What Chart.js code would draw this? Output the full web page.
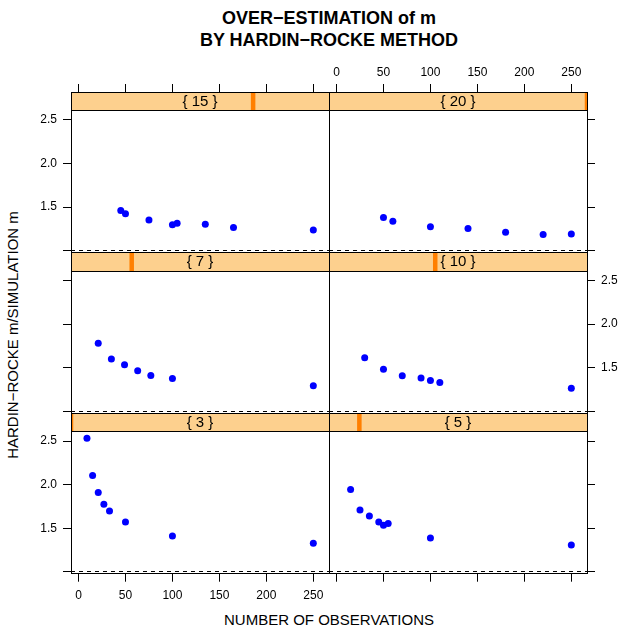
<!DOCTYPE html>
<html>
<head>
<meta charset="utf-8">
<title>Over-estimation of m</title>
<script src="https://cdn.jsdelivr.net/npm/chart.js@4.4.1/dist/chart.umd.min.js"></script>
<style>
  body { margin: 0; background: #fff; }
  #wrap { position: relative; width: 620px; height: 630px; font-family: "Liberation Sans", Arial, sans-serif; color: #000; }
  #wrap canvas { position: absolute; left: 0; top: 0; }
  .main { position: absolute; left: 79px; width: 500px; top: 7px; text-align: center; font-weight: bold; font-size: 18px; line-height: 22px; }
  .xlab { position: absolute; left: 129px; width: 400px; top: 611px; text-align: center; font-size: 15px; line-height: 18px; }
  .ylab { position: absolute; left: 13px; top: 335px; width: 0; height: 0; }
  .ylab span { position: absolute; left: 0; top: 0; white-space: nowrap; font-size: 15px; line-height: 18px; transform: translate(-50%, -50%) rotate(-90deg); }
</style>
</head>
<body>
<div id="wrap">
  <div class="main">OVER&#8722;ESTIMATION of m<br>BY HARDIN&#8722;ROCKE METHOD</div>
  <div class="ylab"><span>HARDIN&#8722;ROCKE m/SIMULATION m</span></div>
  <div class="xlab">NUMBER OF OBSERVATIONS</div>
</div>
<script>
// number of classes (strip levels)
var levels = [3, 5, 7, 10, 15, 20];
var stripLabels = ['{ 3 }', '{ 5 }', '{ 7 }', '{ 10 }', '{ 15 }', '{ 20 }'];

// number of observations / ratio Hardin-Rocke m to simulated m, one pair per level
var n3 = [9, 15, 21, 27, 33, 50, 100, 250];
var ratio3 = [2.532, 2.105, 1.910, 1.776, 1.700, 1.574, 1.413, 1.330];
var n5 = [15, 25, 35, 45, 50, 55, 100, 250];
var ratio5 = [1.945, 1.711, 1.642, 1.574, 1.536, 1.555, 1.390, 1.310];
var n7 = [21, 35, 49, 63, 77, 100, 250];
var ratio7 = [1.781, 1.600, 1.535, 1.466, 1.412, 1.378, 1.293];
var n10 = [30, 50, 70, 90, 100, 110, 250];
var ratio10 = [1.615, 1.482, 1.408, 1.381, 1.355, 1.332, 1.266];
var n15 = [45, 50, 75, 100, 105, 135, 165, 250];
var ratio15 = [1.461, 1.423, 1.354, 1.297, 1.316, 1.305, 1.266, 1.239];
var n20 = [50, 60, 100, 140, 180, 220, 250];
var ratio20 = [1.381, 1.339, 1.274, 1.254, 1.213, 1.185, 1.193];

var xTicks = [0, 50, 100, 150, 200, 250];
var yTicks = [1.0, 1.5, 2.0, 2.5];
var xRange = [-8, 266.7];
var yRange = [0.98, 2.82];   // top part is covered by the strip

// panel grid (lattice layout 2 x 3, bottom row first)
var colLeft = [71, 329], colWidth = 258;
var rowTop = [92, 252.6, 413.2], rowHeight = 160.5;
var stripH = 18.5;
var axisW = 33, axisH = 30;   // room kept for outer tick labels
var tickFont = { family: '"Liberation Sans", Arial, sans-serif', size: 12 };

var panels = [
  { n: n3, r: ratio3, lev: 0, col: 0, row: 2 },
  { n: n5, r: ratio5, lev: 1, col: 1, row: 2 },
  { n: n7, r: ratio7, lev: 2, col: 0, row: 1 },
  { n: n10, r: ratio10, lev: 3, col: 1, row: 1 },
  { n: n15, r: ratio15, lev: 4, col: 0, row: 0 },
  { n: n20, r: ratio20, lev: 5, col: 1, row: 0 }
];

var panelPlugin = {
  id: 'panel',
  beforeDatasetsDraw: function (chart) {
    var a = chart.chartArea, ctx = chart.ctx;
    var y = Math.floor(chart.scales.y.getPixelForValue(1)) + 0.5;
    ctx.save();
    ctx.strokeStyle = '#000';
    ctx.lineWidth = 1;
    ctx.setLineDash([4, 4]);
    ctx.beginPath();
    ctx.moveTo(a.left, y);
    ctx.lineTo(a.right, y);
    ctx.stroke();
    ctx.restore();
  },
  afterDraw: function (chart, args, opts) {
    var a = chart.chartArea, ctx = chart.ctx;
    var l = Math.floor(a.left) + 0.5, r = Math.floor(a.right) + 0.5;
    var t = Math.floor(a.top) + 0.5, b = Math.floor(a.bottom) + 0.5;
    var sb = Math.floor(a.top + stripH) + 0.5;
    ctx.save();
    // strip
    ctx.fillStyle = '#fdd08e';
    ctx.fillRect(a.left, a.top, a.width, stripH);
    var lo = levels[0], hi = levels[levels.length - 1];
    var bx = a.left + (opts.level - lo) / (hi - lo) * a.width;
    ctx.save();
    ctx.beginPath();
    ctx.rect(a.left, a.top, a.width, stripH);
    ctx.clip();
    ctx.fillStyle = '#ff7f00';
    ctx.fillRect(bx - 2.25, a.top, 4.5, stripH);
    ctx.restore();
    ctx.fillStyle = '#000';
    ctx.font = '15px "Liberation Sans", Arial, sans-serif';
    ctx.textAlign = 'center';
    ctx.textBaseline = 'middle';
    ctx.fillText(opts.label, a.left + a.width / 2, a.top + stripH / 2 + 0.5);
    // borders
    ctx.strokeStyle = '#000';
    ctx.lineWidth = 1;
    ctx.beginPath();
    ctx.moveTo(l, sb);
    ctx.lineTo(r, sb);
    ctx.stroke();
    ctx.strokeRect(l, t, r - l, b - t);
    ctx.restore();
  }
};

function axis(pos, show, labels, ticksArr, range, fmt) {
  var vertical = (pos === 'left' || pos === 'right');
  return {
    type: 'linear',
    position: pos,
    display: show,
    min: range[0],
    max: range[1],
    grid: { drawOnChartArea: false, drawTicks: true, tickLength: 8, color: '#000', tickColor: '#000', lineWidth: 1 },
    border: { display: false },
    ticks: {
      display: labels,
      padding: vertical ? 6 : (pos === 'bottom' ? 7 : 4),
      color: '#000',
      font: tickFont,
      autoSkip: false,
      maxRotation: 0,
      callback: fmt
    },
    afterBuildTicks: function (s) {
      s.ticks = ticksArr.map(function (v) { return { value: v }; });
    },
    afterFit: function (s) {
      var size = show ? (vertical ? axisW : axisH) : 0;
      if (vertical) s.width = size; else s.height = size;
    }
  };
}

function fmtX(v) { return String(v); }
function fmtY(v) { return v === 1 ? '' : v.toFixed(1); }

var wrap = document.getElementById('wrap');

panels.forEach(function (p) {
  var cv = document.createElement('canvas');
  cv.width = 620;
  cv.height = 630;
  wrap.appendChild(cv);

  var pts = p.n.map(function (v, i) { return { x: v, y: p.r[i] }; });
  var left = colLeft[p.col], top = rowTop[p.row];
  var showL = p.col === 0, showR = p.col === 1, showT = p.row === 0, showB = p.row === 2;

  new Chart(cv, {
    type: 'scatter',
    data: {
      datasets: [{
        data: pts,
        xAxisID: 'x',
        yAxisID: 'y',
        pointRadius: 3.5,
        pointHoverRadius: 3.5,
        pointBackgroundColor: '#0000ff',
        pointBorderWidth: 0
      }]
    },
    options: {
      responsive: false,
      animation: false,
      events: [],
      layout: {
        padding: {
          left: left - (showL ? axisW : 0),
          top: top - (showT ? axisH : 0),
          right: 620 - left - colWidth - (showR ? axisW : 0),
          bottom: 630 - top - rowHeight - (showB ? axisH : 0)
        }
      },
      scales: {
        x: axis('bottom', showB, p.col === 0, xTicks, xRange, fmtX),
        x2: axis('top', showT, p.col === 1, xTicks, xRange, fmtX),
        y: axis('left', showL, p.row !== 1, yTicks, yRange, fmtY),
        y2: axis('right', showR, p.row === 1, yTicks, yRange, fmtY)
      },
      plugins: {
        legend: { display: false },
        tooltip: { enabled: false },
        panel: { label: stripLabels[p.lev], level: levels[p.lev] }
      }
    },
    plugins: [panelPlugin]
  });
});
</script>
</body>
</html>
